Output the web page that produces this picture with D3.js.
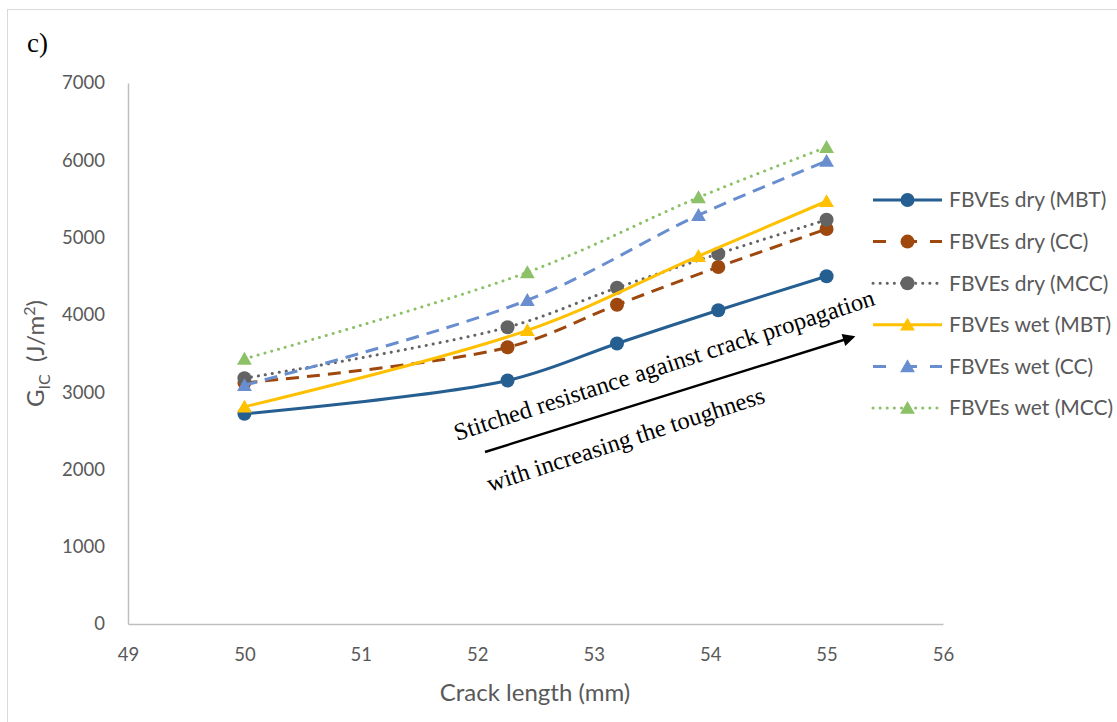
<!DOCTYPE html>
<html>
<head>
<meta charset="utf-8">
<script src="https://cdn.jsdelivr.net/npm/d3@7"></script>
<style>
  html, body { margin: 0; padding: 0; background: #fff; }
  svg { display: block; }
</style>
</head>
<body>
<svg id="chart" width="1117" height="722"></svg>
<script>
// crack length positions (mm)
const dry_x = [50, 52.26, 53.2, 54.07, 55]
const wet_x = [50, 52.43, 53.9, 55]

// G_IC values (J/m2)
const dry_mbt = [2720, 3150, 3630, 4060, 4500]
const dry_cc = [3120, 3580, 4130, 4620, 5110]
const dry_mcc = [3180, 3840, 4350, 4790, 5230]
const wet_mbt = [2810, 3800, 4760, 5470]
const wet_cc = [3090, 4190, 5290, 5990]
const wet_mcc = [3430, 4550, 5520, 6170]

const series_names = [
  'FBVEs dry (MBT)', 'FBVEs dry (CC)', 'FBVEs dry (MCC)',
  'FBVEs wet (MBT)', 'FBVEs wet (CC)', 'FBVEs wet (MCC)'
]
const x_ticks = [49, 50, 51, 52, 53, 54, 55, 56]
const y_ticks = [0, 1000, 2000, 3000, 4000, 5000, 6000, 7000]

// styles per series
const series_style = [
  { color: '#255E91', dash: null, marker: 'circle' },
  { color: '#9E480E', dash: '13 8', marker: 'circle' },
  { color: '#636363', dash: '0.1 7', marker: 'circle' },
  { color: '#FFC000', dash: null, marker: 'triangle' },
  { color: '#698ED0', dash: '13 8', marker: 'triangle' },
  { color: '#8CC168', dash: '0.1 7', marker: 'triangle' }
]

let series = [
  { xs: dry_x, ys: dry_mbt },
  { xs: dry_x, ys: dry_cc },
  { xs: dry_x, ys: dry_mcc },
  { xs: wet_x, ys: wet_mbt },
  { xs: wet_x, ys: wet_cc },
  { xs: wet_x, ys: wet_mcc }
].map((s, i) => ({
  name: series_names[i],
  style: series_style[i],
  points: s.xs.map((x, j) => ({ x: x, y: s.ys[j] }))
}))

const label_font = 'Lato, "Open Sans", sans-serif'
const text_color = '#595959'

let svg = d3.select('#chart')

// outer frame
svg.append('rect')
  .attr('x', 7.5).attr('y', 9.5)
  .attr('width', 1130).attr('height', 730)
  .style('fill', 'none')
  .style('stroke', '#D9D9D9')
  .style('stroke-width', 1)

let x = d3.scaleLinear().domain([49, 56]).range([128, 943])
let y = d3.scaleLinear().domain([0, 7000]).range([624, 83])

// axes
let x_axis = svg.append('g')
  .attr('transform', `translate(0, ${y(0)})`)
  .call(d3.axisBottom(x).tickValues(x_ticks).tickFormat(d3.format('d'))
    .tickSize(0).tickPadding(24))
let y_axis = svg.append('g')
  .attr('transform', `translate(${x(49)}, 0)`)
  .call(d3.axisLeft(y).tickValues(y_ticks).tickFormat(d3.format('d'))
    .tickSize(0).tickPadding(23))

for (let ax of [x_axis, y_axis]) {
  ax.select('.domain').style('stroke', '#BFBFBF').style('stroke-width', 1.5)
  ax.selectAll('text')
    .style('font-family', label_font)
    .style('font-size', '18.5px')
    .style('fill', text_color)
}

// axis titles
svg.append('text')
  .attr('x', 535).attr('y', 701)
  .attr('text-anchor', 'middle')
  .style('font-family', label_font)
  .style('font-size', '24px')
  .style('fill', text_color)
  .text('Crack length (mm)')

let y_title = svg.append('text')
  .attr('transform', `translate(44, ${y(3500)}) rotate(-90)`)
  .attr('text-anchor', 'middle')
  .style('font-family', label_font)
  .style('font-size', '24px')
  .style('fill', text_color)
y_title.append('tspan').text('G')
y_title.append('tspan').attr('dy', 6).style('font-size', '16px').text('IC')
y_title.append('tspan').attr('dy', -6).text('\u00a0 (J/m')
y_title.append('tspan').attr('dy', -9).style('font-size', '16px').text('2')
y_title.append('tspan').attr('dy', 9).text(')')

// panel label
svg.append('text')
  .attr('x', 27).attr('y', 52)
  .style('font-family', '"Liberation Serif", "Times New Roman", serif')
  .style('font-size', '27px')
  .style('fill', '#000')
  .text('c)')

// series lines
let line = d3.line()
  .x(d => x(d.x))
  .y(d => y(d.y))
  .curve(d3.curveCatmullRom.alpha(0.5))

function draw_marker(g, kind, cx, cy, color) {
  if (kind == 'circle') {
    g.append('circle')
      .attr('cx', cx).attr('cy', cy).attr('r', 7)
      .style('fill', color)
  } else {
    let sym = d3.symbol().type(d3.symbolTriangle).size(95)
    g.append('path')
      .attr('d', sym())
      .attr('transform', `translate(${cx}, ${cy + 1.5})`)
      .style('fill', color)
  }
}

let plot = svg.append('g')
for (let s of series) {
  let g = plot.append('g')
  g.append('path')
    .datum(s.points)
    .attr('d', line)
    .style('fill', 'none')
    .style('stroke', s.style.color)
    .style('stroke-width', 3)
    .style('stroke-linecap', s.style.dash == '0.1 7' ? 'round' : 'butt')
    .style('stroke-dasharray', s.style.dash)
  for (let p of s.points) {
    draw_marker(g, s.style.marker, x(p.x), y(p.y), s.style.color)
  }
}

// annotation with arrow
svg.append('defs').append('marker')
  .attr('id', 'arrow-head')
  .attr('viewBox', '0 0 10 10')
  .attr('refX', 8).attr('refY', 5)
  .attr('markerWidth', 6).attr('markerHeight', 5)
  .attr('markerUnits', 'strokeWidth')
  .attr('orient', 'auto')
  .append('path')
  .attr('d', 'M0,0 L10,5 L0,10 Z')
  .style('fill', '#000')

svg.append('line')
  .attr('x1', 485).attr('y1', 452)
  .attr('x2', 853).attr('y2', 337)
  .style('stroke', '#000')
  .style('stroke-width', 2.5)
  .attr('marker-end', 'url(#arrow-head)')

let note_font = '"Liberation Serif", "Times New Roman", serif'
svg.append('text')
  .attr('transform', 'translate(457, 441) rotate(-18)')
  .style('font-family', note_font)
  .style('font-size', '24.5px')
  .style('fill', '#000')
  .text('Stitched resistance against crack propagation')

svg.append('text')
  .attr('transform', 'translate(490, 492) rotate(-18)')
  .style('font-family', note_font)
  .style('font-size', '24.5px')
  .style('fill', '#000')
  .text('with increasing the toughness')

// legend
let legend = svg.append('g')
series.forEach((s, i) => {
  let ly = 200 + i * 41.6
  let g = legend.append('g')
  g.append('line')
    .attr('x1', 873).attr('x2', 942)
    .attr('y1', ly).attr('y2', ly)
    .style('stroke', s.style.color)
    .style('stroke-width', 3)
    .style('stroke-linecap', s.style.dash == '0.1 7' ? 'round' : 'butt')
    .style('stroke-dasharray', s.style.dash == '13 8' ? '13 18 13' : s.style.dash)
  draw_marker(g, s.style.marker, 907.5, ly, s.style.color)
  g.append('text')
    .attr('x', 949).attr('y', ly)
    .attr('dy', '0.35em')
    .style('font-family', label_font)
    .style('font-size', '21px')
    .style('fill', text_color)
    .text(s.name)
})
</script>
</body>
</html>
